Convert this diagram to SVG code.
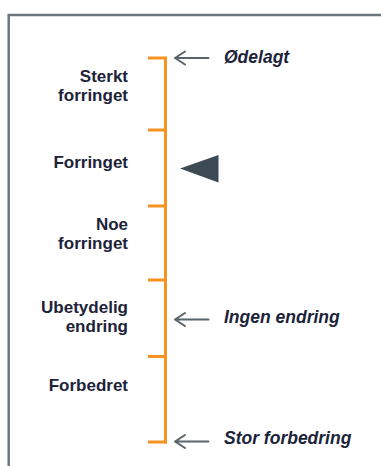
<svg xmlns="http://www.w3.org/2000/svg" width="381" height="466" viewBox="0 0 381 466">
<style>
.lbl{font-family:"Liberation Sans",Arial,sans-serif;font-weight:bold;font-size:17px;fill:#1c2339;text-anchor:end}
.rl{font-family:"Liberation Sans",Arial,sans-serif;font-weight:bold;font-style:italic;font-size:17.5px;fill:#1c2339}
.tick{stroke:#f7931e;stroke-width:3;fill:none}
.arr{stroke:#58636a;stroke-width:2;fill:none;stroke-linecap:round;stroke-linejoin:round}
</style>
<rect width="381" height="466" fill="#ffffff"/>
<g id="frame">
<path d="M8.7,466 V15 H381" fill="none" stroke="#6e777b" stroke-width="2.5"/>
</g>
<g id="scale">
<path class="tick" d="M165.5,57.5 V443.5"/>
<path class="tick" d="M148,58 H167"/>
<path class="tick" d="M148,130 H167"/>
<path class="tick" d="M148,206 H167"/>
<path class="tick" d="M148,280 H167"/>
<path class="tick" d="M148,356.5 H167"/>
<path class="tick" d="M148,442 H167"/>
</g>
<g id="labels-left">
<text class="lbl" x="128" y="82">Sterkt</text>
<text class="lbl" x="128" y="101">forringet</text>
<text class="lbl" x="128" y="168">Forringet</text>
<text class="lbl" x="128" y="229.5">Noe</text>
<text class="lbl" x="128" y="248.5">forringet</text>
<text class="lbl" x="128" y="312.5">Ubetydelig</text>
<text class="lbl" x="128" y="331.5">endring</text>
<text class="lbl" x="128" y="390.5">Forbedret</text>
</g>
<g id="marker">
<polygon points="180,168.5 218.5,155 218.5,182.5" fill="#3c4a53"/>
</g>
<g id="connectors">
<path class="arr" d="M208.5,58 H175 M185,51.5 L175,58 L185,64.5"/>
<path class="arr" d="M208.5,319.5 H175 M185,313 L175,319.5 L185,326"/>
<path class="arr" d="M208.5,441.5 H175 M185,435 L175,441.5 L185,448"/>
</g>
<g id="labels-right">
<text class="rl" x="224" y="63">Ødelagt</text>
<text class="rl" x="224" y="322.5">Ingen endring</text>
<text class="rl" x="224" y="444">Stor forbedring</text>
</g>
</svg>
